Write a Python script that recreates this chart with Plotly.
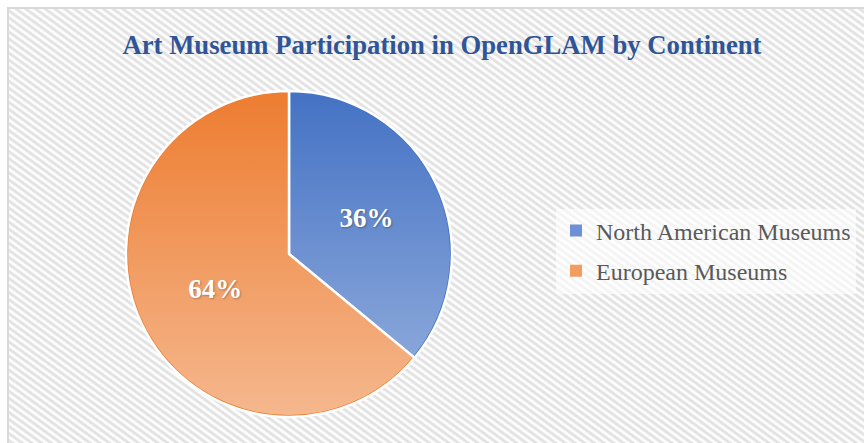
import base64
import plotly.graph_objects as go

# ---- data ----
categories = ["North American Museums", "European Museums"]
values = [36, 64]
colors = ["#4472C4", "#ED7D31"]
legend_colors = ["#6E91D4", "#F39C60"]
title_text = "Art Museum Participation in OpenGLAM by Continent"

W, H = 864, 443

def px_x(x):
    return x / W

def px_y(y):
    return (H - y) / H

# ---- hatched background (svg data uri) ----
hatch_svg = f"""<svg xmlns='http://www.w3.org/2000/svg' width='{W}' height='{H}'>
<defs><pattern id='p' width='5.7' height='5.7' patternUnits='userSpaceOnUse' patternTransform='rotate(36)'>
<rect width='5.7' height='5.7' fill='#fcfcfc'/><rect width='5.7' height='2.8' fill='#e3e3e3'/>
</pattern></defs>
<rect width='{W}' height='{H}' fill='url(#p)'/></svg>"""
hatch_uri = "data:image/svg+xml;base64," + base64.b64encode(hatch_svg.encode()).decode()

# ---- gradient overlay for the pie ----
grad_svg = """<svg xmlns='http://www.w3.org/2000/svg' viewBox='0 0 100 100' preserveAspectRatio='none' width='100' height='100'>
<defs><linearGradient id='g' x1='0' y1='0' x2='0' y2='1'>
<stop offset='0' stop-color='#ffffff' stop-opacity='0'/>
<stop offset='1' stop-color='#ffffff' stop-opacity='0.45'/>
</linearGradient></defs>
<circle cx='50' cy='50' r='49.4' fill='url(#g)'/></svg>"""
grad_uri = "data:image/svg+xml;base64," + base64.b64encode(grad_svg.encode()).decode()

# pie box (pixels)
pl, pt, ps = 126, 91, 326

fig = go.Figure()
fig.add_trace(go.Pie(
    labels=categories,
    values=values,
    sort=False,
    direction="clockwise",
    rotation=0,
    showlegend=False,
    marker=dict(colors=colors, line=dict(color="white", width=2.5)),
    texttemplate="%{percent:.0%}",
    textposition="inside",
    insidetextorientation="horizontal",
    insidetextfont=dict(family="Liberation Serif", size=27, color="white",
                        weight="bold", shadow="1px 1px 2px rgba(0,0,0,0.45)"),
    hoverinfo="label+percent",
    domain=dict(x=[px_x(pl), px_x(pl + ps)], y=[px_y(pt + ps), px_y(pt)]),
))

# legend entries (one per category)
for i, (name, col) in enumerate(zip(categories, legend_colors)):
    fig.add_trace(go.Scatter(
        x=[None], y=[None], mode="markers", name=name, legendgroup=f"g{i}",
        marker=dict(symbol="square", size=8, color=col),
        hoverinfo="skip",
    ))

fig.update_layout(
    width=W, height=H,
    margin=dict(l=0, r=0, t=0, b=0),
    paper_bgcolor="white",
    plot_bgcolor="rgba(0,0,0,0)",
    xaxis=dict(visible=False),
    yaxis=dict(visible=False),
    title=dict(text=title_text, x=442 / W, xanchor="center", y=px_y(45), yanchor="middle",
               font=dict(family="Liberation Serif", size=26.7, color="#2F5597", weight="bold")),
    legend=dict(x=px_x(556), xanchor="left", y=px_y(251), yanchor="middle",
                bgcolor="rgba(255,255,255,0.6)",
                font=dict(family="Liberation Serif", size=24, color="#595959"),
                tracegroupgap=6, itemsizing="constant"),
    images=[
        dict(source=hatch_uri, xref="paper", yref="paper", x=px_x(9), y=px_y(9),
             sizex=1, sizey=1, sizing="stretch", xanchor="left", yanchor="top", layer="below"),
        dict(source=grad_uri, xref="paper", yref="paper", x=px_x(pl), y=px_y(pt),
             sizex=ps / W, sizey=ps / H, sizing="stretch", xanchor="left", yanchor="top", layer="above"),
    ],
    shapes=[dict(type="rect", xref="paper", yref="paper", x0=px_x(8), y0=px_y(8), x1=1.02, y1=-0.02,
                 line=dict(color="#d9d9d9", width=2), fillcolor="rgba(0,0,0,0)", layer="above")],
)

fig.write_html("out.html", config={"displayModeBar": False},
               post_script="document.body.style.margin='0';document.body.style.padding='0';")
